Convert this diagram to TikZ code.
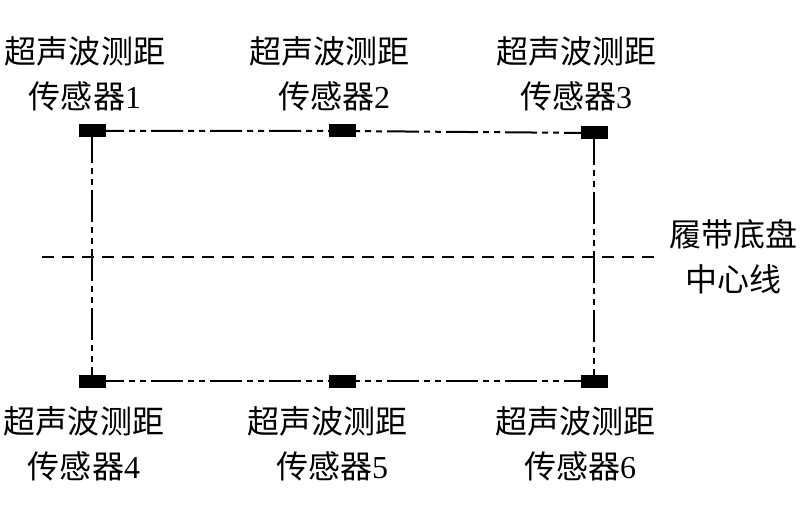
\documentclass[tikz,border=0pt]{standalone}
\usepackage{fontspec}
\setmainfont{Liberation Serif}
\newfontfamily\cjk{Noto Sans CJK SC}
\usepackage{tikz}
\usetikzlibrary{calc}

\tikzset{
  sensor/.style={draw=none,fill=black,minimum width=27bp,minimum height=13bp,inner sep=0pt},
  linkline/.style={line width=2bp,dash pattern=on 32bp off 5bp on 6bp off 5bp on 6bp off 5bp},
  axisline/.style={line width=1.6bp,dash pattern=on 12bp off 8bp},
  tag/.style={align=center,font=\fontsize{32bp}{45bp}\selectfont,inner sep=0pt}
}

\begin{document}
\begin{tikzpicture}[x=1bp,y=-1bp]
    \useasboundingbox (0,0) rectangle (800,513);
    \coordinate (a1) at (92,131);
    \coordinate (a2) at (342,131);
    \coordinate (a3) at (594,133);
    \coordinate (a4) at (92,381);
    \coordinate (a5) at (342,381);
    \coordinate (a6) at (594,381);
    \coordinate (mleft) at (42,257);
    \coordinate (mright) at (655,257);
    \draw[axisline](mleft)--(mright);
    \draw[linkline](a1)--(a2)--(a3);
    \draw[linkline](a4)--(a5)--(a6);
    \draw[linkline](a1)--(a4);
    \draw[linkline](a3)--(a6);
    \node[sensor] (s1) at (a1) {};
    \node[sensor] (s2) at (a2) {};
    \node[sensor] (s3) at (a3) {};
    \node[sensor] (s4) at (a4) {};
    \node[sensor] (s5) at (a5) {};
    \node[sensor] (s6) at (a6) {};
    \node[tag] (t1) at (85,74) {{\cjk 超声波测距}\\{\cjk 传感器}1};
    \node[tag] (t2) at (329,74) {{\cjk 超声波测距}\\\hspace*{10bp}{\cjk 传感器}2};
    \node[tag] (t3) at (576,74) {{\cjk 超声波测距}\\{\cjk 传感器}3};
    \node[tag] (t4) at (84,444) {{\cjk 超声波测距}\\{\cjk 传感器}4};
    \node[tag] (t5) at (327,444) {{\cjk 超声波测距}\\\hspace*{10bp}{\cjk 传感器}5};
    \node[tag] (t6) at (575,444) {{\cjk 超声波测距}\\\hspace*{10bp}{\cjk 传感器}6};
    \node[tag] (tc) at (733,257) {{\cjk 履带底盘}\\{\cjk 中心线}};
  \end{tikzpicture}
\end{document}
